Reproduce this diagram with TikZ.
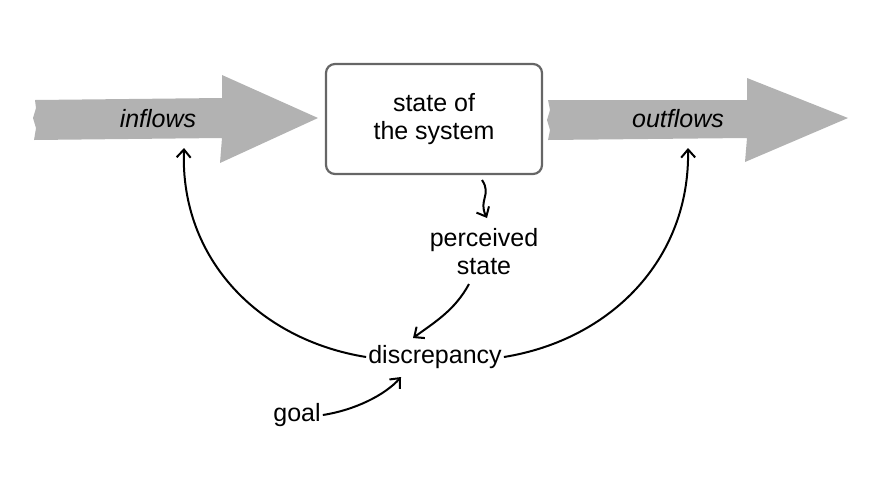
\documentclass[tikz,border=0pt]{standalone}
\usepackage{fontspec}
\setmainfont{Liberation Sans}
\usetikzlibrary{arrows.meta}
\begin{document}
\begin{tikzpicture}[x=1pt,y=-1pt,
  flow/.style={fill=black!30,draw=none},
  lbl/.style={font=\fontsize{25}{28}\selectfont,align=center},
  fb/.style={line width=2pt,-{Straight Barb[length=8pt,width=14pt]}}]
\useasboundingbox (0,0) rectangle (896,488);
\fill[flow] (35,100) -- (36,108) -- (33,118) -- (36,128) -- (34,140) -- (222,138) -- (220,163) -- (318,118) -- (222,75) -- (222,98) -- cycle;
\fill[flow] (548,100) -- (550,110) -- (547,120) -- (550,130) -- (548,140) -- (747,138) -- (745,162) -- (848,118) -- (747,78) -- (747,100) -- cycle;
\node[lbl,font=\fontsize{25}{28}\selectfont\itshape] (in) at (158,119) {inflows};
\node[lbl,font=\fontsize{25}{28}\selectfont\itshape] (out) at (678,119) {outflows};
\node[lbl,draw=black!60,line width=2.2pt,rounded corners=9pt,minimum width=216pt,minimum height=110pt,inner sep=0pt] (st) at (434,119) {state of\\the system};
\node[lbl,fill=white,inner sep=1pt] (ps) at (484,252) {perceived\\state};
\node[lbl,fill=white,inner sep=2pt] (d) at (435,357) {discrepancy};
\node[lbl,inner sep=2pt] (g) at (297,415) {goal};
\coordinate (inA) at (184,148);
\coordinate (outA) at (688,148);
\draw[fb] (482,180) .. controls (492,195) and (478,200) .. (487,218);
\draw[fb] (469,284) .. controls (455,310) and (435,322) .. (413,338);
\draw[fb] (g.east) .. controls (355,410) and (385,395) .. (401,377);
\draw[fb] (d.west) .. controls (260,340) and (180,260) .. (inA);
\draw[fb] (d.east) .. controls (610,340) and (690,260) .. (outA);
\end{tikzpicture}
\end{document}
